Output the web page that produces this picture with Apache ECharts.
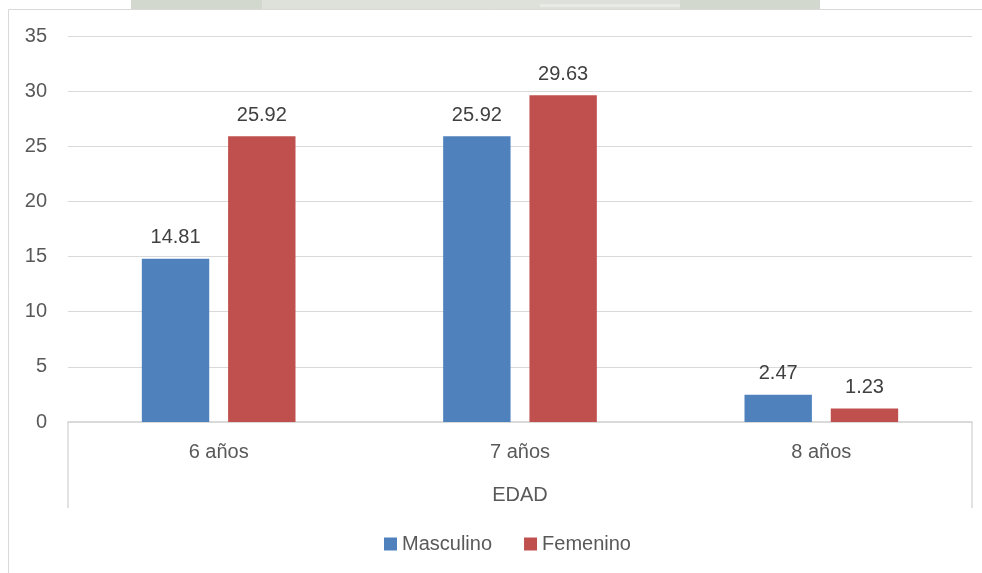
<!DOCTYPE html>
<html>
<head>
<meta charset="utf-8">
<script src="https://cdn.jsdelivr.net/npm/echarts@6/dist/echarts.min.js"></script>
<style>
  html, body { margin: 0; padding: 0; background: #ffffff; }
  #chart { width: 982px; height: 573px; }
</style>
</head>
<body>
<div id="chart"></div>
<script>
// Age groups and percentage by sex
const categories = ['6 años', '7 años', '8 años'];
const groupLabel = ['EDAD'];
const masculino = [14.81, 25.92, 2.47];
const femenino = [25.92, 29.63, 1.23];
const yTicks = { min: 0, max: 35, interval: 5 };

const FONT = '"Liberation Sans", Arial, sans-serif';
const AXIS_TEXT = '#595959';
const LABEL_TEXT = '#404040';
const LINE = '#d9d9d9';

const chart = echarts.init(document.getElementById('chart'), null, { renderer: 'canvas' });

const valueLabel = {
  show: true,
  position: 'top',
  distance: 11,
  color: LABEL_TEXT,
  fontFamily: FONT,
  fontSize: 20,
  formatter: p => p.value.toFixed(2)
};

chart.setOption({
  backgroundColor: '#ffffff',
  animation: false,
  textStyle: { fontFamily: FONT },
  graphic: [
    // faint band above the chart frame
    { type: 'rect', shape: { x: 131, y: 0, width: 689, height: 9 }, style: { fill: '#d3d8cf' }, z: -10, silent: true },
    { type: 'rect', shape: { x: 262, y: 0, width: 418, height: 9 }, style: { fill: '#dde1d9' }, z: -9, silent: true },
    { type: 'rect', shape: { x: 540, y: 4, width: 140, height: 3 }, style: { fill: '#e8ebe5' }, z: -9, silent: true },
    // chart frame
    { type: 'rect', shape: { x: 8.5, y: 9.5, width: 1000, height: 600 }, style: { fill: 'none', stroke: LINE, lineWidth: 1 }, z: -5, silent: true }
  ],
  legend: {
    left: 379,
    top: 529,
    itemWidth: 13,
    itemHeight: 13,
    itemGap: 32,
    icon: 'rect',
    textStyle: { color: AXIS_TEXT, fontSize: 20, fontFamily: FONT },
    data: ['Masculino', 'Femenino']
  },
  grid: { left: 68, right: 10, top: 36, bottom: 151, containLabel: false },
  xAxis: [
    {
      type: 'category',
      data: categories,
      position: 'bottom',
      offset: 0,
      axisLine: { show: true, lineStyle: { color: LINE, width: 1.5 } },
      axisTick: { show: false },
      axisLabel: { color: AXIS_TEXT, fontSize: 20, fontFamily: FONT, margin: 20 }
    },
    {
      type: 'category',
      data: groupLabel,
      position: 'bottom',
      offset: 0,
      axisLine: { show: true, lineStyle: { color: LINE, width: 1.5 } },
      axisTick: { show: true, inside: false, length: 86, lineStyle: { color: LINE, width: 1.5 } },
      axisLabel: { color: AXIS_TEXT, fontSize: 20, fontFamily: FONT, margin: 63 }
    }
  ],
  yAxis: {
    type: 'value',
    min: yTicks.min,
    max: yTicks.max,
    interval: yTicks.interval,
    axisLine: { show: false },
    axisTick: { show: false },
    axisLabel: { color: AXIS_TEXT, fontSize: 20, fontFamily: FONT, margin: 21 },
    splitLine: { lineStyle: { color: LINE, width: 1 } }
  },
  series: [
    {
      name: 'Masculino',
      type: 'bar',
      xAxisIndex: 0,
      data: masculino,
      barGap: '28%',
      barCategoryGap: '49%',
      itemStyle: { color: '#4f81bd' },
      label: valueLabel
    },
    {
      name: 'Femenino',
      type: 'bar',
      xAxisIndex: 0,
      data: femenino,
      barGap: '28%',
      barCategoryGap: '49%',
      itemStyle: { color: '#c0504d' },
      label: valueLabel
    }
  ]
});
</script>
</body>
</html>
